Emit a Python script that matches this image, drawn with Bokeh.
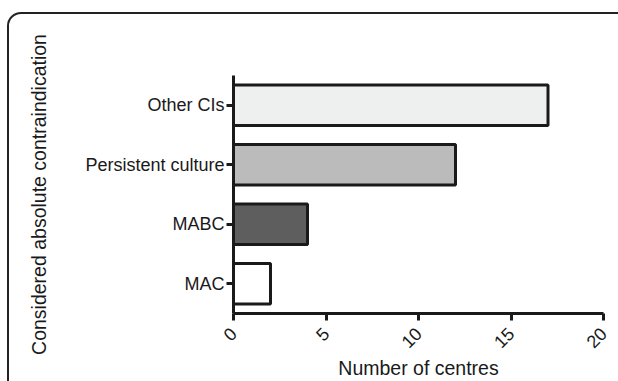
from bokeh.plotting import figure
from bokeh.models import FactorRange, Range1d, FixedTicker, InlineStyleSheet
from bokeh.embed import file_html
from bokeh.resources import INLINE
import math

categories = ["MAC", "MABC", "Persistent culture", "Other CIs"]
values = [2, 4, 12, 17]
colors = ["#FFFFFF", "#5E5E5E", "#BBBBBB", "#EEEFEF"]
x_ticks = [0, 5, 10, 15, 20]

FONT = "Liberation Sans"

# rounded panel border drawn over the canvas (starts at x=7, y=12, runs off right/bottom)
panel_css = InlineStyleSheet(css="""
:host { position: relative; overflow: hidden; }
:host::after {
  content: "";
  position: absolute;
  left: 7px; top: 12px;
  width: 700px; height: 500px;
  border: 2px solid #222222;
  border-radius: 14px;
  pointer-events: none;
  box-sizing: border-box;
}
""")

p = figure(width=618, height=381, output_backend="svg", toolbar_location=None,
           y_range=FactorRange(factors=categories, range_padding=0),
           x_range=Range1d(0, 20),
           min_border_left=233, min_border_right=15, min_border_top=75, min_border_bottom=61)
p.stylesheets = [panel_css]

p.hbar(y=categories, right=values, left=0, height=0.68, fill_color=colors,
       line_color="#1a1a1a", line_width=3)

p.outline_line_color = None
p.xgrid.visible = False
p.ygrid.visible = False
p.background_fill_color = "white"
p.border_fill_color = "white"

for ax in (p.xaxis[0], p.yaxis[0]):
    ax.axis_line_width = 3
    ax.axis_line_color = "#1a1a1a"
    ax.major_tick_line_width = 3
    ax.major_tick_line_color = "#1a1a1a"
    ax.major_tick_out = 7
    ax.major_tick_in = 0
    ax.minor_tick_line_color = None
    ax.major_label_text_font = FONT
    ax.major_label_text_font_size = "18px"
    ax.major_label_text_color = "#1a1a1a"
    ax.axis_label_text_font = FONT
    ax.axis_label_text_font_size = "19.5px"
    ax.axis_label_text_font_style = "normal"
    ax.axis_label_text_color = "#1a1a1a"

p.xaxis.ticker = FixedTicker(ticks=x_ticks)
p.xaxis.major_label_orientation = math.pi / 4
p.xaxis.major_label_standoff = 10
p.xaxis.axis_label = "Number of centres"
p.xaxis.axis_label_standoff = 0
p.yaxis.axis_label = "Considered absolute contraindication"
p.yaxis.major_label_standoff = 2
p.yaxis.axis_label_standoff = 32

open("out.html", "w").write(file_html(p, INLINE))
